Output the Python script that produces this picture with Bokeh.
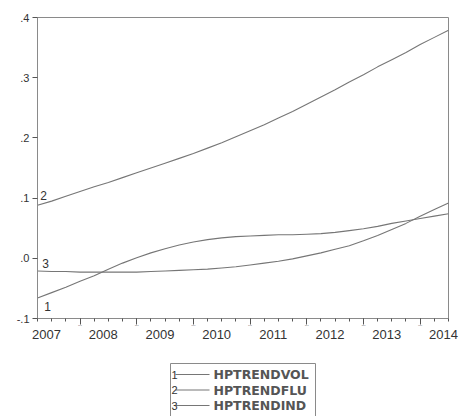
import pandas as pd
from bokeh.plotting import figure
from bokeh.layouts import column
from bokeh.models import Range1d, FixedTicker, LinearAxis
from bokeh.core.properties import value
from bokeh.embed import file_html
from bokeh.resources import INLINE

# Quarterly sample 2007Q1 - 2014Q2
periods = pd.period_range("2007Q1", "2014Q2", freq="Q")
years = [2007, 2008, 2009, 2010, 2011, 2012, 2013, 2014]
year_labels = ["2007", "2008", "2009", "2010", "2011", "2012", "2013", "2014"]
y_ticks = [-0.1, 0.0, 0.1, 0.2, 0.3, 0.4]
y_tick_labels = ["-.1", ".0", ".1", ".2", ".3", ".4"]

# Hodrick-Prescott trends
hptrendvol = [-0.066, -0.057, -0.048, -0.038, -0.029, -0.018, -0.008, 0.001,
              0.009, 0.016, 0.022, 0.027, 0.031, 0.034, 0.036, 0.037,
              0.038, 0.039, 0.039, 0.040, 0.041, 0.043, 0.046, 0.049,
              0.053, 0.058, 0.062, 0.066, 0.070, 0.074]
hptrendflu = [0.088, 0.095, 0.103, 0.111, 0.119, 0.126, 0.134, 0.142,
              0.150, 0.158, 0.166, 0.174, 0.183, 0.192, 0.202, 0.212,
              0.222, 0.233, 0.244, 0.256, 0.268, 0.280, 0.293, 0.305,
              0.318, 0.330, 0.342, 0.355, 0.367, 0.379]
hptrendind = [-0.021, -0.022, -0.022, -0.023, -0.023, -0.023, -0.023, -0.023,
              -0.022, -0.021, -0.020, -0.019, -0.018, -0.016, -0.014, -0.011,
              -0.008, -0.005, -0.001, 0.004, 0.009, 0.015, 0.021, 0.029,
              0.038, 0.048, 0.058, 0.070, 0.081, 0.092]
series_names = ["HPTRENDVOL", "HPTRENDFLU", "HPTRENDIND"]
series_ids = ["1", "2", "3"]

x = [p.year + (p.quarter - 1) / 4 for p in periods]

LINE = "#767676"
FRAME = "#8a8a8a"
TICK = "#555555"
TEXT = "#333333"
FONT = "Liberation Sans"
BORDER_L, BORDER_R = 37, 11

p = figure(width=459, height=346, output_backend="svg", toolbar_location=None,
           x_range=Range1d(x[0], x[-1]), y_range=Range1d(-0.1, 0.4),
           min_border_left=BORDER_L, min_border_right=BORDER_R,
           min_border_top=17, min_border_bottom=28)
p.outline_line_color = FRAME
p.xgrid.visible = False
p.ygrid.visible = False

# inner x axis: a tick per quarter, longer tick at each fourth quarter
q4 = [v for p_, v in zip(periods, x) if p_.quarter == 4]
xa = p.xaxis[0]
xa.ticker = FixedTicker(ticks=q4, minor_ticks=x)
xa.major_label_text_font_size = "1px"
xa.major_label_standoff = 0
xa.major_tick_out = 6
xa.major_tick_in = 0
xa.minor_tick_out = 3
xa.minor_tick_in = 0
xa.axis_line_color = FRAME
xa.major_tick_line_color = TICK
xa.minor_tick_line_color = TICK

# year labels
label_pos = [yv + 0.16 for yv in years]
xl = LinearAxis(ticker=FixedTicker(ticks=label_pos, minor_ticks=[]))
xl.major_label_overrides = {pos: lab for pos, lab in zip(label_pos, year_labels)}
xl.major_tick_out = 0
xl.major_tick_in = 0
xl.minor_tick_out = 0
xl.axis_line_color = None
xl.major_label_standoff = 1
xl.major_label_text_font = FONT
xl.major_label_text_font_size = "13px"
xl.major_label_text_color = TEXT
p.add_layout(xl, "below")

ya = p.yaxis[0]
ya.ticker = FixedTicker(ticks=y_ticks, minor_ticks=[])
ya.major_label_overrides = {t: s for t, s in zip(y_ticks, y_tick_labels)}
ya.major_tick_out = 5
ya.major_tick_in = 0
ya.major_label_standoff = 3
ya.axis_line_color = FRAME
ya.major_tick_line_color = TICK
ya.major_label_text_font = FONT
ya.major_label_text_font_size = "11px"
ya.major_label_text_color = TEXT

series = [hptrendvol, hptrendflu, hptrendind]
for vals in series:
    p.line(x, vals, line_color=LINE, line_width=1.1)

# series numbers next to each line's start
offsets = [(10, 8), (6, -10), (8, -7)]
for vals, sid, (dx, dy) in zip(series, series_ids, offsets):
    p.text(x=[x[0]], y=[vals[0]], text=[sid], x_offset=dx, y_offset=dy,
           text_align="center", text_baseline="middle",
           text_font=value(FONT), text_font_size="12px", text_color=TEXT)

# legend panel, in page-pixel coordinates (frame spans the same columns)
leg = figure(width=459, height=70, output_backend="svg", toolbar_location=None,
             x_range=Range1d(BORDER_L, 459 - BORDER_R), y_range=Range1d(70, 0),
             x_axis_type=None, y_axis_type=None, min_border=0,
             min_border_left=BORDER_L, min_border_right=BORDER_R)
leg.outline_line_color = None
leg.xgrid.visible = False
leg.ygrid.visible = False
leg.quad(left=[170], right=[315], top=[17], bottom=[80], fill_color=None,
         line_color=FRAME, line_width=1)
rows = [28, 43.5, 59]
leg.segment(x0=[175] * 3, y0=rows, x1=[209] * 3, y1=rows,
            line_color=LINE, line_width=1.1)
leg.text(x=[171] * 3, y=rows, text=series_ids, text_align="left",
         text_baseline="middle", text_font=value(FONT),
         text_font_size="11px", text_color=TEXT)
leg.text(x=[213] * 3, y=rows, text=series_names, text_align="left",
         text_baseline="middle", text_font=value("DejaVu Sans"),
         text_font_size="12.5px", text_font_style="bold", text_color="#555555")

layout = column(p, leg, spacing=0)
open("out.html", "w").write(file_html(layout, INLINE))
